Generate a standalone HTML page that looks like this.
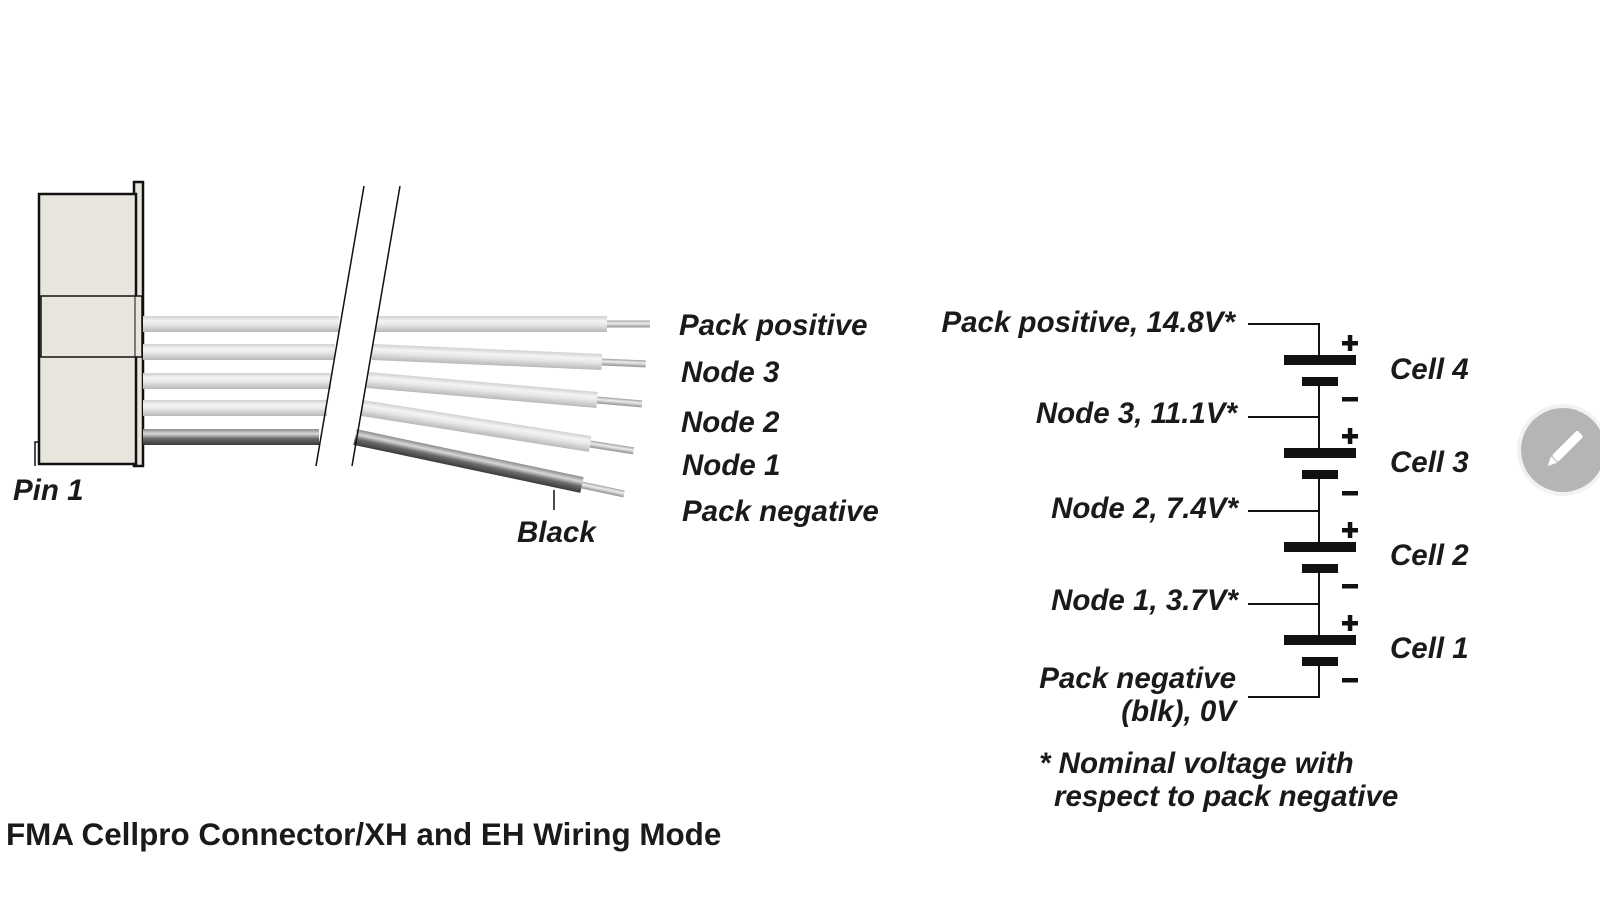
<!DOCTYPE html>
<html><head><meta charset="utf-8"><style>
html,body{margin:0;padding:0;background:#fff;width:1600px;height:900px;overflow:hidden}
svg{display:block}
text{font-family:"Liberation Sans",Arial,sans-serif;font-weight:bold;font-style:italic;font-size:29.5px;fill:#1a1a1a}
</style></head><body>
<svg width="1600" height="900" viewBox="0 0 1600 900" xmlns="http://www.w3.org/2000/svg">
<defs>
<linearGradient id="lw" x1="0" y1="0" x2="0" y2="1">
<stop offset="0" stop-color="#d0d0d0"/><stop offset="0.3" stop-color="#f4f4f4"/><stop offset="0.55" stop-color="#e6e6e6"/><stop offset="1" stop-color="#b8b8b8"/>
</linearGradient>
<linearGradient id="dw" x1="0" y1="0" x2="0" y2="1">
<stop offset="0" stop-color="#8a8a8a"/><stop offset="0.3" stop-color="#d8d8d8"/><stop offset="0.6" stop-color="#6a6a6a"/><stop offset="1" stop-color="#3a3a3a"/>
</linearGradient>
<linearGradient id="cw" x1="0" y1="0" x2="0" y2="1">
<stop offset="0" stop-color="#a0a0a0"/><stop offset="0.4" stop-color="#eeeeee"/><stop offset="1" stop-color="#909090"/>
</linearGradient>
</defs>
<!-- connector -->
<rect x="134" y="182" width="9" height="284" fill="#e8e5dd" stroke="#111" stroke-width="2.5"/>
<rect x="39" y="194" width="97" height="270" fill="#e8e5dd" stroke="#111" stroke-width="2.5"/>
<rect x="41" y="296" width="101" height="61" fill="#e8e5dd" stroke="#111" stroke-width="1.5"/>
<line x1="135" y1="296" x2="135" y2="357" stroke="#111" stroke-width="1"/>
<polyline points="35,466 35,442 39,442" fill="none" stroke="#111" stroke-width="1.5"/>
<!-- left wire segments -->
<rect x="143" y="316" width="196" height="16" fill="url(#lw)"/>
<rect x="143" y="344" width="192" height="16" fill="url(#lw)"/>
<rect x="143" y="373" width="188" height="16" fill="url(#lw)"/>
<rect x="143" y="400" width="184" height="16" fill="url(#lw)"/>
<rect x="143" y="429" width="176" height="16" fill="url(#dw)"/>
<!-- right wire segments -->
<g transform="translate(376,324)"><rect x="0" y="-8" width="231" height="16" fill="url(#lw)"/><rect x="231" y="-3.5" width="43" height="7" fill="url(#cw)"/></g>
<g transform="translate(372,352) rotate(2.49)"><rect x="0" y="-8" width="230" height="16" fill="url(#lw)"/><rect x="230" y="-3.5" width="44" height="7" fill="url(#cw)"/></g>
<g transform="translate(367,380) rotate(4.97)"><rect x="0" y="-8" width="231" height="16" fill="url(#lw)"/><rect x="231" y="-3.5" width="45" height="7" fill="url(#cw)"/></g>
<g transform="translate(362,408) rotate(8.97)"><rect x="0" y="-8" width="231" height="16" fill="url(#lw)"/><rect x="231" y="-3.5" width="44" height="7" fill="url(#cw)"/></g>
<g transform="translate(355,437) rotate(11.94)"><rect x="0" y="-8" width="232" height="16" fill="url(#dw)"/><rect x="232" y="-3.5" width="43" height="7" fill="url(#cw)"/></g>
<!-- break lines -->
<line x1="364" y1="186" x2="316" y2="466" stroke="#111" stroke-width="1.5"/>
<line x1="400" y1="186" x2="352" y2="466" stroke="#111" stroke-width="1.5"/>
<line x1="554" y1="490" x2="554" y2="510" stroke="#111" stroke-width="1.5"/>
<text x="13" y="500">Pin 1</text>
<text x="517" y="542">Black</text>
<text x="679" y="335">Pack positive</text>
<text x="681" y="382">Node 3</text>
<text x="681" y="432">Node 2</text>
<text x="682" y="475">Node 1</text>
<text x="682" y="521">Pack negative</text>
<!-- schematic -->
<g stroke="#111" stroke-width="2" fill="none">
<polyline points="1248,324 1319,324 1319,360"/>
<polyline points="1248,417 1319,417"/>
<polyline points="1248,511 1319,511"/>
<polyline points="1248,604 1319,604"/>
<polyline points="1248,697 1319,697 1319,661"/>
<line x1="1319" y1="381" x2="1319" y2="453"/>
<line x1="1319" y1="474" x2="1319" y2="547"/>
<line x1="1319" y1="568" x2="1319" y2="640"/>
</g>
<g fill="#111">
<rect x="1284" y="355" width="72" height="10"/><rect x="1302" y="377" width="36" height="9"/>
<rect x="1284" y="448" width="72" height="10"/><rect x="1302" y="470" width="36" height="9"/>
<rect x="1284" y="542" width="72" height="10"/><rect x="1302" y="564" width="36" height="9"/>
<rect x="1284" y="635" width="72" height="10"/><rect x="1302" y="657" width="36" height="9"/>
<!-- plus signs -->
<rect x="1342" y="341" width="16" height="4.5"/><rect x="1347.8" y="335" width="4.5" height="16"/>
<rect x="1342" y="434" width="16" height="4.5"/><rect x="1347.8" y="428" width="4.5" height="16"/>
<rect x="1342" y="528" width="16" height="4.5"/><rect x="1347.8" y="522" width="4.5" height="16"/>
<rect x="1342" y="621" width="16" height="4.5"/><rect x="1347.8" y="615" width="4.5" height="16"/>
<!-- minus signs -->
<rect x="1342" y="397" width="16" height="4.5"/>
<rect x="1342" y="491" width="16" height="4.5"/>
<rect x="1342" y="584" width="16" height="4.5"/>
<rect x="1342" y="678" width="16" height="4.5"/>
</g>
<text x="1390" y="379">Cell 4</text>
<text x="1390" y="472">Cell 3</text>
<text x="1390" y="565">Cell 2</text>
<text x="1390" y="658">Cell 1</text>
<g text-anchor="end">
<text x="1235" y="332">Pack positive, 14.8V*</text>
<text x="1237" y="423">Node 3, 11.1V*</text>
<text x="1238" y="518">Node 2, 7.4V*</text>
<text x="1238" y="610">Node 1, 3.7V*</text>
<text x="1236" y="688">Pack negative</text>
<text x="1236" y="721">(blk), 0V</text>
</g>
<text x="1039" y="773">* Nominal voltage with</text>
<text x="1054" y="806">respect to pack negative</text>
<text x="6" y="845" style="font-style:normal;font-size:31.4px">FMA Cellpro Connector/XH and EH Wiring Mode</text>
<!-- pencil button -->
<circle cx="1563" cy="450" r="46" fill="#f2f2f2"/>
<circle cx="1563" cy="450" r="42" fill="#b5b5b5"/>
<g transform="translate(1563,450) rotate(45)">
<rect x="-4" y="-24" width="9" height="36" rx="2" fill="#fff"/>
<polygon points="-4,13 5,13 0.5,22" fill="#fff"/>
</g>
</svg>
</body></html>
